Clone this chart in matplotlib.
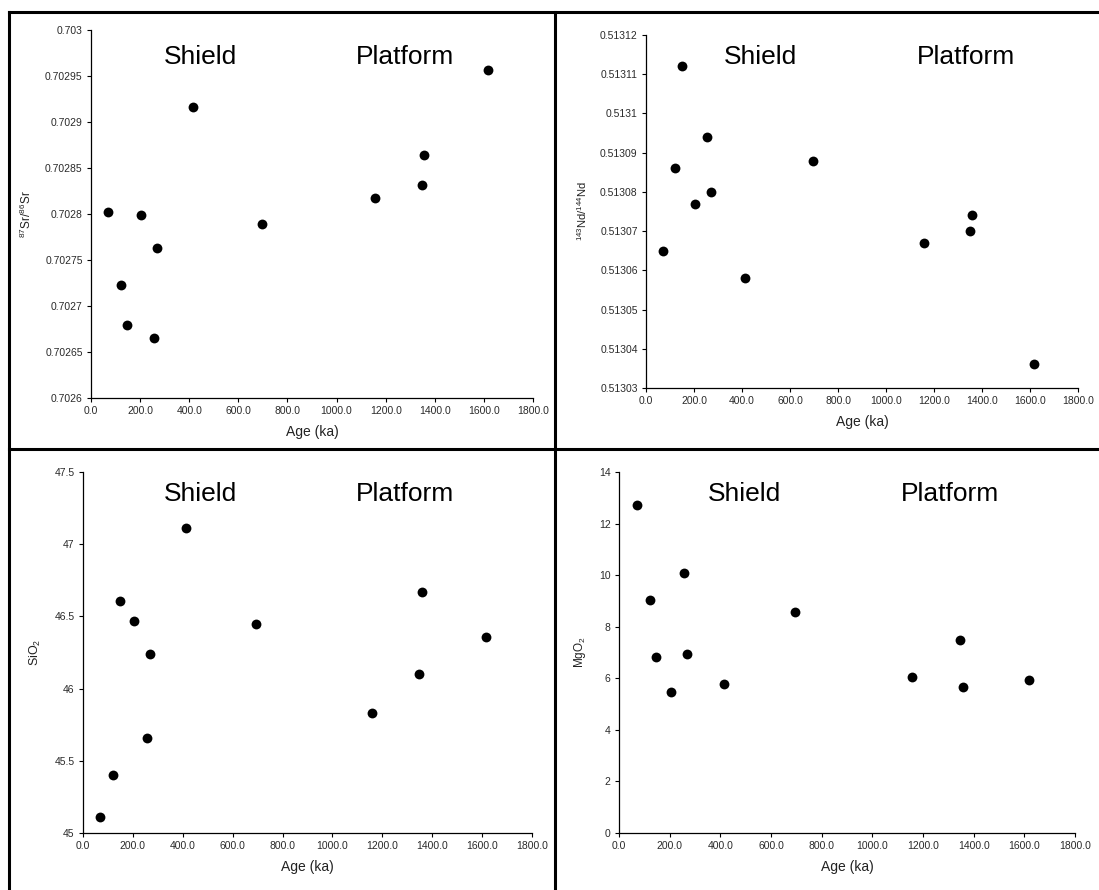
import matplotlib
matplotlib.use("Agg")
import matplotlib.pyplot as plt
from matplotlib.lines import Line2D
import numpy as np

plt.rcParams['font.family'] = ['Liberation Sans', 'DejaVu Sans']
plt.rcParams['mathtext.fontset'] = 'custom'
plt.rcParams['mathtext.rm'] = 'Liberation Sans'
plt.rcParams['mathtext.it'] = 'Liberation Sans:italic'
plt.rcParams['mathtext.bf'] = 'Liberation Sans:bold'

# ---- data ----
age_ka = [70, 122, 148, 205, 255, 269, 414, 695, 1157, 1348, 1358, 1617]
sr_ratio = [0.702802, 0.702723, 0.702679, 0.702799, 0.702665, 0.702763,
            0.702916, 0.702789, 0.702817, 0.702832, 0.702864, 0.702956]
nd_ratio = [0.513065, 0.513086, 0.513112, 0.513077, 0.513094, 0.513080,
            0.513058, 0.513088, 0.513067, 0.513070, 0.513074, 0.513036]
sio2 = [45.11, 45.40, 46.61, 46.47, 45.655, 46.24, 47.11, 46.45, 45.83, 46.10, 46.67, 46.36]
mgo2 = [12.73, 9.04, 6.81, 5.47, 10.10, 6.95, 5.78, 8.58, 6.06, 7.49, 5.68, 5.92]

x_ticks = [0, 200, 400, 600, 800, 1000, 1200, 1400, 1600, 1800]
sr_ticks = [0.7026, 0.70265, 0.7027, 0.70275, 0.7028, 0.70285, 0.7029, 0.70295, 0.703]
nd_ticks = [0.51303, 0.51304, 0.51305, 0.51306, 0.51307, 0.51308, 0.51309, 0.5131, 0.51311, 0.51312]
sio2_ticks = [45, 45.5, 46, 46.5, 47, 47.5]
mgo_ticks = [0, 2, 4, 6, 8, 10, 12, 14]

x_label = "Age (ka)"
group_labels = ["Shield", "Platform"]

W, H = 1099, 890
fig = plt.figure(figsize=(W / 100, H / 100), dpi=100)
fig.patch.set_facecolor('white')


def px_axes(l, r, t, b):
    return fig.add_axes([l / W, 1 - b / H, (r - l) / W, (b - t) / H])


def fmt(v):
    s = f"{v:.5f}".rstrip('0').rstrip('.')
    return s


panels = [
    dict(box=(91, 533, 30, 398), y=sr_ratio, yt=sr_ticks,
         ylabel=r'$\mathregular{^{87}}$Sr/$\mathregular{^{86}}$Sr', ylsize=8.5,
         txt=((0.247, 0.927), (0.710, 0.927))),
    dict(box=(646, 1078, 35, 388), y=nd_ratio, yt=nd_ticks,
         ylabel=r'$\mathregular{^{143}}$Nd/$\mathregular{^{144}}$Nd', ylsize=8,
         txt=((0.264, 0.938), (0.741, 0.938))),
    dict(box=(83, 532, 472, 833), y=sio2, yt=sio2_ticks,
         ylabel=r'SiO$\mathregular{_2}$', ylsize=9,
         txt=((0.261, 0.939), (0.717, 0.939))),
    dict(box=(619, 1075, 472, 833), y=mgo2, yt=mgo_ticks,
         ylabel=r'MgO$\mathregular{_2}$', ylsize=8.5,
         txt=((0.276, 0.939), (0.726, 0.939))),
]

tick_col = '#2a2a2a'
for p in panels:
    ax = px_axes(*p['box'])
    ax.scatter(age_ka, p['y'], s=50, color='black', zorder=3, linewidths=0)
    ax.set_xlim(x_ticks[0], x_ticks[-1])
    ax.set_ylim(p['yt'][0], p['yt'][-1])
    ax.set_xticks(x_ticks)
    ax.set_xticklabels([f"{v:.1f}" for v in x_ticks])
    ax.set_yticks(p['yt'])
    ax.set_yticklabels([fmt(v) for v in p['yt']])
    for s in ['top', 'right']:
        ax.spines[s].set_visible(False)
    for s in ['left', 'bottom']:
        ax.spines[s].set_linewidth(0.9)
        ax.spines[s].set_color('black')
    ax.tick_params(direction='out', length=3, width=0.8, labelsize=7.5,
                   labelcolor=tick_col, pad=3)
    ax.set_xlabel(x_label, fontsize=10, color='#222222', labelpad=6)
    ax.set_ylabel(p['ylabel'], fontsize=p['ylsize'], color='#222222', labelpad=8)
    ax.patch.set_alpha(0)
    for (xf, yf), lab in zip(p['txt'], group_labels):
        ax.text(xf, yf, lab, transform=ax.transAxes, ha='center', va='center',
                fontsize=19, color='black')

# frame lines
lw = 2.2
fig.add_artist(Line2D([9 / W, 9 / W], [0, 1 - 12 / H], color='black', lw=lw))
fig.add_artist(Line2D([9 / W, 1], [1 - 12 / H, 1 - 12 / H], color='black', lw=lw))
fig.add_artist(Line2D([555 / W, 555 / W], [0, 1 - 12 / H], color='black', lw=lw))
fig.add_artist(Line2D([9 / W, 1], [1 - 449 / H, 1 - 449 / H], color='black', lw=lw))

fig.savefig("out.png", dpi=100, facecolor='white')
